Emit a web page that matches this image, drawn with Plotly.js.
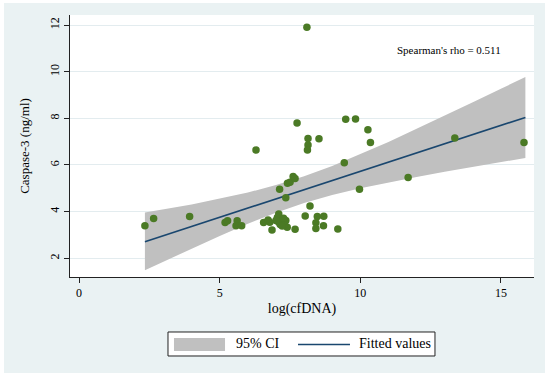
<!DOCTYPE html>
<html>
<head>
<meta charset="utf-8">
<script src="https://cdn.plot.ly/plotly-3.0.1.min.js"></script>
<style>
html,body{margin:0;padding:0;background:#ffffff;}
#chart{position:absolute;left:4px;top:3px;width:541px;height:370px;}
</style>
</head>
<body>
<div id="chart"></div>
<script>
// Observed points: log(cfDNA) vs Caspase-3 (ng/ml)
const cfDNA = [2.34, 2.65, 3.93, 5.19, 5.28, 5.62, 5.58, 5.78, 6.29, 6.56, 6.72, 6.86,
  7.13, 7.35, 7.41, 7.50, 7.61, 7.68, 7.75, 7.68, 7.40, 8.04, 8.14, 8.14, 8.12, 8.10,
  8.21, 8.53, 8.47, 8.70, 8.42, 8.42, 8.69, 9.20, 9.43, 9.48, 9.83, 9.97, 10.27, 10.36,
  11.70, 13.36, 15.82, 7.10, 7.05, 7.17, 7.22, 7.10, 7.27, 7.15, 7.30, 7.22, 7.35, 7.00,
  7.27, 6.78];
const caspase3 = [3.40, 3.71, 3.79, 3.53, 3.61, 3.61, 3.39, 3.39, 6.64, 3.53, 3.64, 3.21,
  4.96, 4.60, 5.22, 5.26, 5.51, 5.42, 7.80, 3.25, 3.33, 3.81, 7.14, 6.86, 6.64, 11.90,
  4.24, 7.13, 3.79, 3.80, 3.52, 3.28, 3.39, 3.26, 6.10, 7.96, 7.97, 4.96, 7.51, 6.96,
  5.46, 7.16, 6.96, 3.90, 3.75, 3.70, 3.62, 3.55, 3.55, 3.45, 3.46, 3.38, 3.62, 3.62,
  3.72, 3.55];

// Fitted line (end points)
const fitX = [2.34, 15.87];
const fitY = [2.71, 8.04];

// 95% CI band
const ciX     = [2.34, 3, 4, 5, 6, 7, 8, 9, 10, 11, 12, 13, 14, 15, 15.87];
const ciUpper = [3.96, 4.09, 4.31, 4.56, 4.82, 5.14, 5.52, 5.96, 6.46, 6.99, 7.55, 8.11, 8.69, 9.27, 9.77];
const ciLower = [1.49, 1.85, 2.41, 2.96, 3.48, 3.95, 4.37, 4.71, 5.00, 5.25, 5.49, 5.71, 5.92, 6.13, 6.30];

const xTicks = [0, 5, 10, 15];
const yTicks = [2, 4, 6, 8, 10, 12];
const legendLabels = ['95% CI', 'Fitted values'];
const annotationText = "Spearman's rho = 0.511";

const FONT = "'Liberation Serif', 'Times New Roman', serif";
const BAND_COLOR = '#c0c0c0';
const LINE_COLOR = '#1a476f';

const bandX = ciX.concat(ciX.slice().reverse());
const bandY = ciUpper.concat(ciLower.slice().reverse());

const traces = [
  {
    x: bandX, y: bandY, type: 'scatter', mode: 'lines',
    fill: 'toself', fillcolor: BAND_COLOR,
    line: {width: 0, color: BAND_COLOR},
    name: legendLabels[0], hoverinfo: 'skip', showlegend: false
  },
  {
    x: fitX, y: fitY, type: 'scatter', mode: 'lines',
    line: {color: LINE_COLOR, width: 1.6},
    name: legendLabels[1], showlegend: false
  },
  {
    x: cfDNA, y: caspase3, type: 'scatter', mode: 'markers',
    marker: {color: '#4b7a25', size: 7.5, line: {width: 0}},
    name: 'Caspase-3', showlegend: false
  }
];

// Stata-style legend box below the plot (paper coordinates)
const shapes = [
  {type: 'rect', xref: 'paper', yref: 'paper', x0: 0.2112, x1: 0.7866, y0: -0.2099, y1: -0.3015,
   fillcolor: '#ffffff', line: {color: '#222222', width: 1}, layer: 'above'},
  {type: 'rect', xref: 'paper', yref: 'paper', x0: 0.2241, x1: 0.3341, y0: -0.2328, y1: -0.2824,
   fillcolor: BAND_COLOR, line: {width: 0}, layer: 'above'},
  {type: 'line', xref: 'paper', yref: 'paper', x0: 0.4914, x1: 0.6034, y0: -0.2576, y1: -0.2576,
   line: {color: LINE_COLOR, width: 1.6}, layer: 'above'}
];

const layout = {
  width: 541, height: 370,
  paper_bgcolor: '#eaf2f3',
  plot_bgcolor: '#ffffff',
  margin: {l: 66, r: 11, t: 12, b: 96},
  font: {family: FONT, color: '#000000', size: 12},
  showlegend: false,
  xaxis: {
    range: [-0.324, 16.176],
    tickvals: xTicks, ticktext: xTicks.map(String),
    ticks: 'outside', ticklen: 5, tickcolor: '#222222',
    showline: true, linecolor: '#222222', linewidth: 1,
    showgrid: false, zeroline: false,
    tickfont: {family: FONT, size: 12},
    title: {text: 'log(cfDNA)', font: {family: FONT, size: 14}, standoff: 3}
  },
  yaxis: {
    range: [1.198, 12.43],
    tickvals: yTicks, ticktext: yTicks.map(String),
    tickangle: -90,
    ticks: 'outside', ticklen: 5, tickcolor: '#222222',
    showline: true, linecolor: '#222222', linewidth: 1,
    showgrid: true, gridcolor: '#e3ecef', gridwidth: 1,
    zeroline: false,
    tickfont: {family: FONT, size: 12},
    title: {text: 'Caspase-3 (ng/ml)', font: {family: FONT, size: 13}, standoff: 15}
  },
  shapes: shapes,
  annotations: [
    {x: 13.14, y: 10.93, xref: 'x', yref: 'y', text: annotationText, showarrow: false,
     font: {family: FONT, size: 11, color: '#000000'}, xanchor: 'center', yanchor: 'middle'},
    {x: 0.3534, y: -0.2557, xref: 'paper', yref: 'paper', text: legendLabels[0], showarrow: false,
     font: {family: FONT, size: 14, color: '#000000'}, xanchor: 'left', yanchor: 'middle'},
    {x: 0.6185, y: -0.2557, xref: 'paper', yref: 'paper', text: legendLabels[1], showarrow: false,
     font: {family: FONT, size: 14, color: '#000000'}, xanchor: 'left', yanchor: 'middle'}
  ]
};

Plotly.newPlot('chart', traces, layout, {displayModeBar: false, staticPlot: true});
</script>
</body>
</html>
